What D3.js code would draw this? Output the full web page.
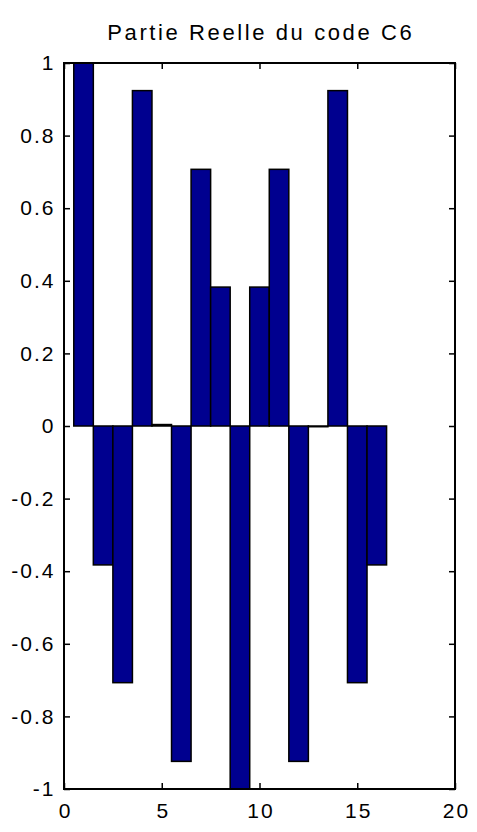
<!DOCTYPE html>
<html>
<head>
<meta charset="utf-8">
<script src="https://cdn.jsdelivr.net/npm/d3@7"></script>
<style>
  body { margin: 0; background: #fff; }
  text { font-family: "Liberation Sans", Arial, sans-serif; }
</style>
</head>
<body>
<div id="container"></div>
<script>
var width = 477;
var height = 832;

// real part of the code, one value per sample
var samples = [1, 2, 3, 4, 5, 6, 7, 8, 9, 10, 11, 12, 13, 14, 15, 16];
var values = [1, -0.3827, -0.7071, 0.9239, 0.004, -0.9239, 0.7071, 0.3827,
              -1, 0.3827, 0.7071, -0.9239, -0.002, 0.9239, -0.7071, -0.3827];
var xTicks = [0, 5, 10, 15, 20];
var yTicks = [-1, -0.8, -0.6, -0.4, -0.2, 0, 0.2, 0.4, 0.6, 0.8, 1];
var title = "Partie Reelle du code C6";

var margin = {top: 63, right: 22, bottom: 43, left: 64};

var x = d3.scaleLinear()
  .domain([0, 20])
  .range([margin.left, width - margin.right]);

var y = d3.scaleLinear()
  .domain([-1, 1])
  .range([height - margin.bottom, margin.top]);

var svg = d3.select("#container")
  .append("svg")
  .attr("width", width)
  .attr("height", height);

var barW = x(1) - x(0);

svg.append("g")
  .selectAll("rect")
  .data(values)
  .enter().append("rect")
  .attr("x", function(d, i) { return x(samples[i]) - barW / 2; })
  .attr("y", function(d) { return y(Math.max(0, d)); })
  .attr("width", barW)
  .attr("height", function(d) { return Math.abs(y(d) - y(0)); })
  .style("fill", "#00008f")
  .style("stroke", "#000")
  .style("stroke-width", 1.5);

function labelStyle(g) {
  g.select(".domain").remove();
  g.selectAll("text")
    .style("font-size", "21px")
    .style("letter-spacing", "2px")
    .attr("fill", "#000");
}

// bottom axis + mirrored top
svg.append("g")
  .attr("transform", "translate(0," + y(-1) + ")")
  .call(d3.axisBottom(x).tickValues(xTicks).tickSizeInner(-6).tickSizeOuter(0).tickPadding(14))
  .call(labelStyle)
  .selectAll("text").attr("dx", "1px");
svg.append("g")
  .attr("transform", "translate(0," + y(1) + ")")
  .call(d3.axisTop(x).tickValues(xTicks).tickSizeInner(-6).tickSizeOuter(0).tickFormat(""))
  .call(function(g) { g.select(".domain").remove(); });

// left axis + mirrored right
svg.append("g")
  .attr("transform", "translate(" + x(0) + ",0)")
  .call(d3.axisLeft(y).tickValues(yTicks).tickSizeInner(-6).tickSizeOuter(0).tickPadding(8.5)
    .tickFormat(function(d) { return String(+d.toFixed(1)); }))
  .call(labelStyle);
svg.append("g")
  .attr("transform", "translate(" + x(20) + ",0)")
  .call(d3.axisRight(y).tickValues(yTicks).tickSizeInner(-6).tickSizeOuter(0).tickFormat(""))
  .call(function(g) { g.select(".domain").remove(); });

svg.selectAll(".tick line").style("stroke", "#000").style("stroke-width", 1.5);

// box
svg.append("rect")
  .attr("x", x(0))
  .attr("y", y(1))
  .attr("width", x(20) - x(0))
  .attr("height", y(-1) - y(1))
  .style("fill", "none")
  .style("stroke", "#000")
  .style("stroke-width", 2);

svg.append("text")
  .attr("x", (x(0) + x(20)) / 2 + 1.3)
  .attr("y", 40)
  .attr("text-anchor", "middle")
  .style("font-size", "22px")
  .style("letter-spacing", "2.6px")
  .text(title);
</script>
</body>
</html>
